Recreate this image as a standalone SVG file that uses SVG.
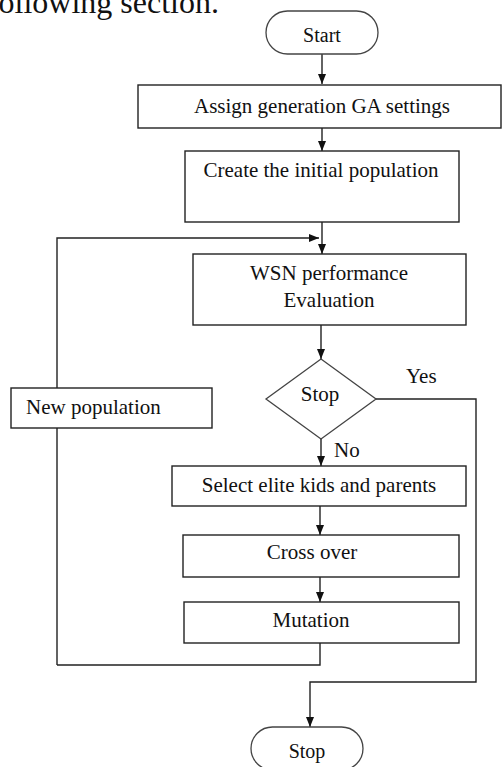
<svg xmlns="http://www.w3.org/2000/svg" width="504" height="767" viewBox="0 0 504 767">
<style>
.b{fill:#fff;stroke:#222;stroke-width:1.4}
.t{fill:#fff;stroke:#444;stroke-width:1.3}
.c{fill:none;stroke:#222;stroke-width:1.4}
text{font-family:"Liberation Serif","Times New Roman",serif;font-size:21px;fill:#111}
.m{text-anchor:middle}
</style>
<defs>
<marker id="a" viewBox="0 0 10 10" refX="10" refY="5" markerWidth="10" markerHeight="10" markerUnits="userSpaceOnUse" orient="auto">
<path d="M0,1 L10,5 L0,9 z" fill="#111"/>
</marker>
</defs>
<text x="219" y="13" style="font-size:32px;text-anchor:end">following section.</text>
<g id="connectors">
<path class="c" d="M322,54 V84" marker-end="url(#a)"/>
<path class="c" d="M322,128 V151" marker-end="url(#a)"/>
<path class="c" d="M322,222 V254" marker-end="url(#a)"/>
<path class="c" d="M57,665 V238 H319" marker-end="url(#a)"/>
<path class="c" d="M320,643 V665 H57"/>
<path class="c" d="M321,325 V359" marker-end="url(#a)"/>
<path class="c" d="M321,439 V466" marker-end="url(#a)"/>
<path class="c" d="M376,399 H476 V682 H310 V727" marker-end="url(#a)"/>
<path class="c" d="M320,506 V535" marker-end="url(#a)"/>
<path class="c" d="M320,577 V602" marker-end="url(#a)"/>
<text x="406" y="383">Yes</text>
<text x="334" y="457">No</text>
</g>
<g id="start">
<rect class="t" x="266" y="11" width="112" height="43" rx="21.5"/>
<text class="m" x="322" y="42" style="font-size:20px">Start</text>
</g>
<g id="assign">
<rect class="b" x="138" y="85" width="363" height="43"/>
<text class="m" x="322" y="113">Assign generation GA settings</text>
</g>
<g id="create">
<rect class="b" x="185" y="151" width="274" height="71"/>
<text class="m" x="321" y="177">Create the initial population</text>
</g>
<g id="wsn">
<rect class="b" x="193" y="254" width="273" height="71"/>
<text class="m" x="329" y="280">WSN performance</text>
<text class="m" x="329" y="307">Evaluation</text>
</g>
<g id="decision">
<path class="t" d="M321,359 L376,399 L321,439 L266,399 Z"/>
<text class="m" x="320" y="401">Stop</text>
</g>
<g id="newpop">
<rect class="b" x="11" y="388" width="201" height="40"/>
<text x="26" y="414">New population</text>
</g>
<g id="select">
<rect class="b" x="172" y="466" width="294" height="40"/>
<text class="m" x="319" y="492">Select elite kids and parents</text>
</g>
<g id="crossover">
<rect class="b" x="183" y="535" width="276" height="42"/>
<text class="m" x="312" y="559">Cross over</text>
</g>
<g id="mutation">
<rect class="b" x="184" y="602" width="275" height="41"/>
<text class="m" x="311" y="627">Mutation</text>
</g>
<g id="stop">
<rect class="t" x="251" y="727" width="112" height="43" rx="21.5"/>
<text class="m" x="307" y="758" style="font-size:20px">Stop</text>
</g>
</svg>
